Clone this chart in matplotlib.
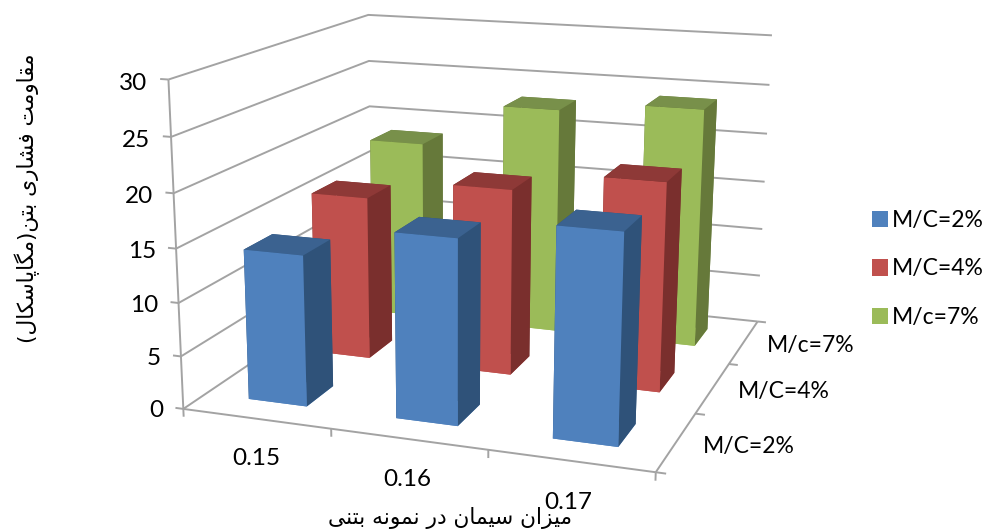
import numpy as np
import matplotlib
matplotlib.use("Agg")
import matplotlib.pyplot as plt
from matplotlib.patches import Patch

# ============================================================
# Data
# ============================================================

cement = ["0.15", "0.16", "0.17"]
series_ticks = ["M/C=2%", "M/C=4%", "M/c=7%"]
legend_labels = ["M/C=2%", "M/C=4%", "M/c=7%"]
z_ticks = [0, 5, 10, 15, 20, 25, 30]

strength_2 = [14.2, 17.1, 19.0]
strength_4 = [16.1, 18.1, 20.0]
strength_7 = [18.5, 23.0, 24.0]

front_colors = ["#4F81BD", "#C0504D", "#9BBB59"]
side_colors = ["#2F5279", "#7A2F2D", "#66793A"]
top_colors = ["#3B6290", "#8E3937", "#78904A"]
GRID = "#A3A3A3"

WIDTH, HEIGHT = 987, 531
TICK_FONT = "Lato"
TICK_SIZE = 16.5
NUMBER_SIZE = 17.5

# ============================================================
# Helper functions
# ============================================================

FORMS = {
    "م": "\uFEE1\uFEE2\uFEE3\uFEE4", "ی": "\uFBFC\uFBFD\uFBFE\uFBFF",
    "ن": "\uFEE5\uFEE6\uFEE7\uFEE8", "س": "\uFEB1\uFEB2\uFEB3\uFEB4",
    "ه": "\uFEE9\uFEEA\uFEEB\uFEEC", "ب": "\uFE8F\uFE90\uFE91\uFE92",
    "ت": "\uFE95\uFE96\uFE97\uFE98", "ق": "\uFED5\uFED6\uFED7\uFED8",
    "ف": "\uFED1\uFED2\uFED3\uFED4", "ش": "\uFEB5\uFEB6\uFEB7\uFEB8",
    "گ": "\uFB92\uFB93\uFB94\uFB95", "پ": "\uFB56\uFB57\uFB58\uFB59",
    "ک": "\uFB8E\uFB8F\uFB90\uFB91", "ل": "\uFEDD\uFEDE\uFEDF\uFEE0",
    "ز": "\uFEAF\uFEB0", "ا": "\uFE8D\uFE8E", "د": "\uFEA9\uFEAA",
    "ر": "\uFEAD\uFEAE", "و": "\uFEED\uFEEE",
}


def shape_persian(text):
    """matplotlib has no text shaping, so pick joined forms and reverse."""
    out = []
    for i, ch in enumerate(text):
        if ch not in FORMS:
            out.append({"(": ")", ")": "("}.get(ch, ch))
            continue
        prev = text[i - 1] if i > 0 else " "
        nxt = text[i + 1] if i + 1 < len(text) else " "
        joins_prev = prev in FORMS and len(FORMS[prev]) == 4
        joins_next = nxt in FORMS and len(FORMS[ch]) == 4
        if joins_prev and joins_next:
            out.append(FORMS[ch][3])
        elif joins_prev:
            out.append(FORMS[ch][1])
        elif joins_next:
            out.append(FORMS[ch][2])
        else:
            out.append(FORMS[ch][0])
    return "".join(reversed(out))


def fit_camera(world, pixels):
    """Least squares 3x4 camera matrix from world/pixel pairs."""
    rows = []
    for (x, y, z), (u, v) in zip(world, pixels):
        rows.append([x, y, z, 1, 0, 0, 0, 0, -u * x, -u * y, -u * z, -u])
        rows.append([0, 0, 0, 0, x, y, z, 1, -v * x, -v * y, -v * z, -v])
    cam = np.linalg.svd(np.array(rows))[2][-1].reshape(3, 4)
    if cam[2] @ np.array([1.5, 1.5, 15, 1]) < 0:
        cam = -cam
    return cam


# Chart box corners and wall points, axes units -> pixels
camera = fit_camera(
    [(0, 0, 0), (0, 0, 15), (0, 0, 30), (3, 0, 0), (3, 3, 0), (3, 3, 15),
     (3, 3, 30), (0, 3, 30), (0, 3, 25), (0, 3, 20)],
    [(183.3, 409), (176, 248.3), (168.3, 80), (656, 472), (757.3, 321.7),
     (765, 182), (771.7, 35), (368.3, 15), (369.3, 61), (369.3, 106)],
)

# ============================================================
# Plotting
# ============================================================

fig = plt.figure(figsize=(WIDTH / 100, HEIGHT / 100), dpi=100)
ax = fig.add_axes([0, 0, 1, 1], projection="3d")
ax.set_axis_off()
ax.computed_zorder = False
ax.set_xlim(0, 3)
ax.set_ylim(0, 3)
ax.set_zlim(0, 30)

# keep the 3d axes over the whole figure instead of a centred square
ax.apply_aspect = lambda position=None: None


def get_proj():
    # camera gives pixels (y down), the 3d axes wants its own 2d coordinates
    flip = np.array([[1, 0, 0], [0, -1, HEIGHT], [0, 0, 1]], dtype=float)
    to_2d = ax.transData.inverted().get_matrix()
    p = to_2d @ flip @ camera
    return np.vstack([p[0], p[1], [0, 0, 0, -1], p[2]])


ax.get_proj = get_proj


def label_3d(x, y, z, text, size, ha):
    # tick labels stay upright, so place them as figure text at the projected point
    u, v, w = camera @ np.array([x, y, z, 1.0])
    fig.text(u / w / WIDTH, 1 - v / w / HEIGHT, text, ha=ha, va="center",
             family=TICK_FONT, fontsize=size)


line = dict(color=GRID, lw=1.4, solid_capstyle="butt", zorder=1)

# walls
for z in z_ticks:
    ax.plot([0, 0, 3], [0, 3, 3], [z, z, z], **line)
    ax.plot([-0.055, 0], [0, 0], [z, z], **line)
    label_3d(-0.14, 0, z - 0.45, str(z), NUMBER_SIZE, "right")

# axis lines
ax.plot([0, 0], [0, 0], [0, 30], **line)
ax.plot([0, 3], [0, 0], [0, 0], **line)
ax.plot([3, 3], [0, 3], [0, 0], **line)

for i in range(4):
    ax.plot([i, i], [0, 0], [0, -0.75], **line)
    ax.plot([3, 3.06], [i, i], [0, 0], **line)

for i, label in enumerate(cement):
    label_3d(i + 0.49, 0, -3.8, label, NUMBER_SIZE, "center")

for i, label in enumerate(series_ticks):
    label_3d(3.16, i + 0.5, -0.1, label, TICK_SIZE, "left")

# bars, back row first
all_values = [strength_2, strength_4, strength_7]
order = 2
for s in [2, 1, 0]:
    for c in range(3):
        # face order: -z, +z, -y, +y, -x, +x
        faces = [front_colors[s], top_colors[s], front_colors[s],
                 side_colors[s], side_colors[s], side_colors[s]]
        ax.bar3d(c + 0.3, s + 0.3, 0, 0.4, 0.4, all_values[s][c],
                 color=faces, shade=False, edgecolor="none", zorder=order)
        order += 1

handles = [Patch(facecolor=col, edgecolor="none") for col in front_colors]
fig.legend(handles, legend_labels, loc="center left",
           bbox_to_anchor=(872 / WIDTH, 1 - 269 / HEIGHT), frameon=False,
           prop={"family": TICK_FONT, "size": TICK_SIZE},
           handlelength=0.7, handleheight=0.7, handletextpad=0.15,
           labelspacing=1.2, borderpad=0, borderaxespad=0)

fig.text(450 / WIDTH, 1 - 518 / HEIGHT, shape_persian("میزان سیمان در نمونه بتنی"),
         ha="center", va="center", fontsize=15.7, family="DejaVu Sans")
fig.text(27 / WIDTH, 1 - 198 / HEIGHT, shape_persian("مقاومت فشاری بتن(مگاپاسکال)"),
         ha="center", va="center", rotation=90, fontsize=15.6, family="DejaVu Sans")

fig.savefig("out.png", dpi=100)
